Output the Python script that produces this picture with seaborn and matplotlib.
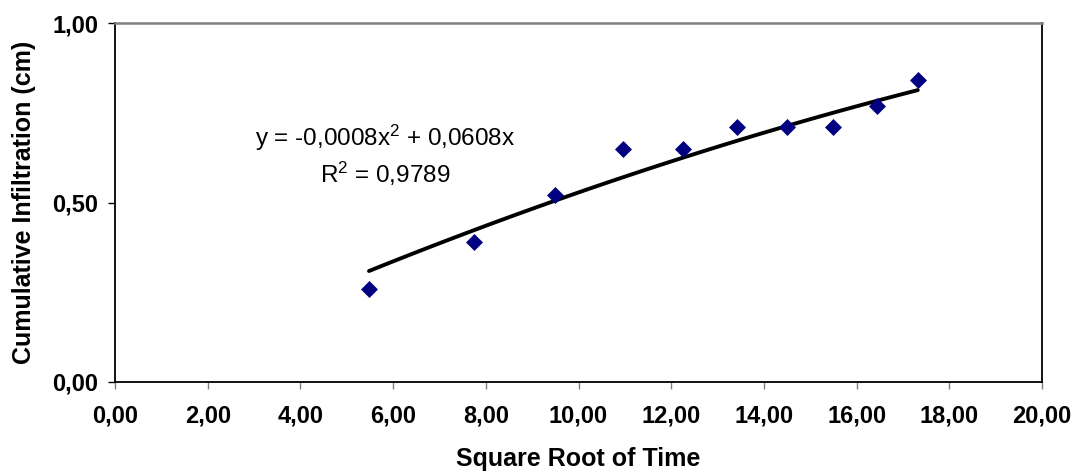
import numpy as np
import pandas as pd
import matplotlib
matplotlib.use("Agg")
import matplotlib.pyplot as plt
import seaborn as sns
from matplotlib.ticker import FixedLocator, FuncFormatter

# Data
sqrt_time = [5.48, 7.75, 9.49, 10.95, 12.25, 13.42, 14.49, 15.49, 16.43, 17.32]
infiltration = [0.26, 0.39, 0.52, 0.65, 0.65, 0.71, 0.71, 0.71, 0.77, 0.84]
# Trend line coefficients (as shown in the chart's equation)
coef_a = -0.0008
coef_b = 0.0608
r_squared = 0.9789
x_ticks = [0, 2, 4, 6, 8, 10, 12, 14, 16, 18, 20]
y_ticks = [0.0, 0.5, 1.0]

sns.set_theme(style="white")
plt.rcParams['font.family'] = ['Liberation Sans', 'DejaVu Sans']
plt.rcParams['mathtext.fontset'] = 'custom'
plt.rcParams['mathtext.rm'] = 'Liberation Sans'
plt.rcParams['mathtext.it'] = 'Liberation Sans:italic'
plt.rcParams['mathtext.bf'] = 'Liberation Sans:bold'
plt.rcParams['text.color'] = 'black'
plt.rcParams['axes.labelcolor'] = 'black'
plt.rcParams['xtick.color'] = 'black'
plt.rcParams['ytick.color'] = 'black'

fig = plt.figure(figsize=(10.76, 4.75), dpi=100)
ax = fig.add_axes([115 / 1076, 1 - 382 / 475, 927 / 1076, 359 / 475])

df = pd.DataFrame({"x": sqrt_time, "y": infiltration})
trend_x = np.linspace(min(sqrt_time), max(sqrt_time), 100)
trend = pd.DataFrame({"x": trend_x, "y": coef_a * trend_x ** 2 + coef_b * trend_x})

sns.lineplot(data=trend, x="x", y="y", ax=ax, color="black", linewidth=2.8, zorder=2)
sns.scatterplot(data=df, x="x", y="y", ax=ax, marker="D", s=75, color="#000080",
                edgecolor="#000080", linewidth=0, zorder=3)

ax.set_xlim(0, 20)
ax.set_ylim(0, 1)
ax.xaxis.set_major_locator(FixedLocator(x_ticks))
ax.yaxis.set_major_locator(FixedLocator(y_ticks))
ax.xaxis.set_major_formatter(FuncFormatter(lambda v, p: f"{v:.2f}".replace(".", ",")))
ax.yaxis.set_major_formatter(FuncFormatter(lambda v, p: f"{v:.2f}".replace(".", ",")))

for s in ["left", "bottom", "right"]:
    ax.spines[s].set_color("black")
    ax.spines[s].set_linewidth(1.3)
ax.spines["top"].set_color("#808080")
ax.spines["top"].set_linewidth(1.8)

ax.tick_params(axis="x", direction="out", length=5, width=1, color="#808080",
               labelcolor="black", pad=11, labelsize=17, bottom=True)
ax.tick_params(axis="y", direction="out", length=5, width=1, color="black",
               labelcolor="black", pad=7, labelsize=17, left=True)
for lbl in ax.get_xticklabels() + ax.get_yticklabels():
    lbl.set_fontweight("bold")
ax.yaxis.get_major_ticks()[-1].tick1line.set_color("#808080")

ax.set_xlabel("Square Root of Time", fontsize=18, fontweight="bold", labelpad=14, color="black")
ax.set_ylabel("Cumulative Infiltration (cm)", fontsize=18, fontweight="bold", labelpad=12,
              color="black")

eq = f"y = {coef_a:.4f}".replace(".", ",") + "x$^2$ + " + f"{coef_b:.4f}".replace(".", ",") + "x"
ax.text(5.83, 0.68, eq, fontsize=17.5, ha="center", va="center", color="black")
ax.text(5.83, 0.58, "R$^2$ = " + f"{r_squared:.4f}".replace(".", ","), fontsize=17.5,
        ha="center", va="center", color="black")

fig.savefig("out.png", dpi=100)
